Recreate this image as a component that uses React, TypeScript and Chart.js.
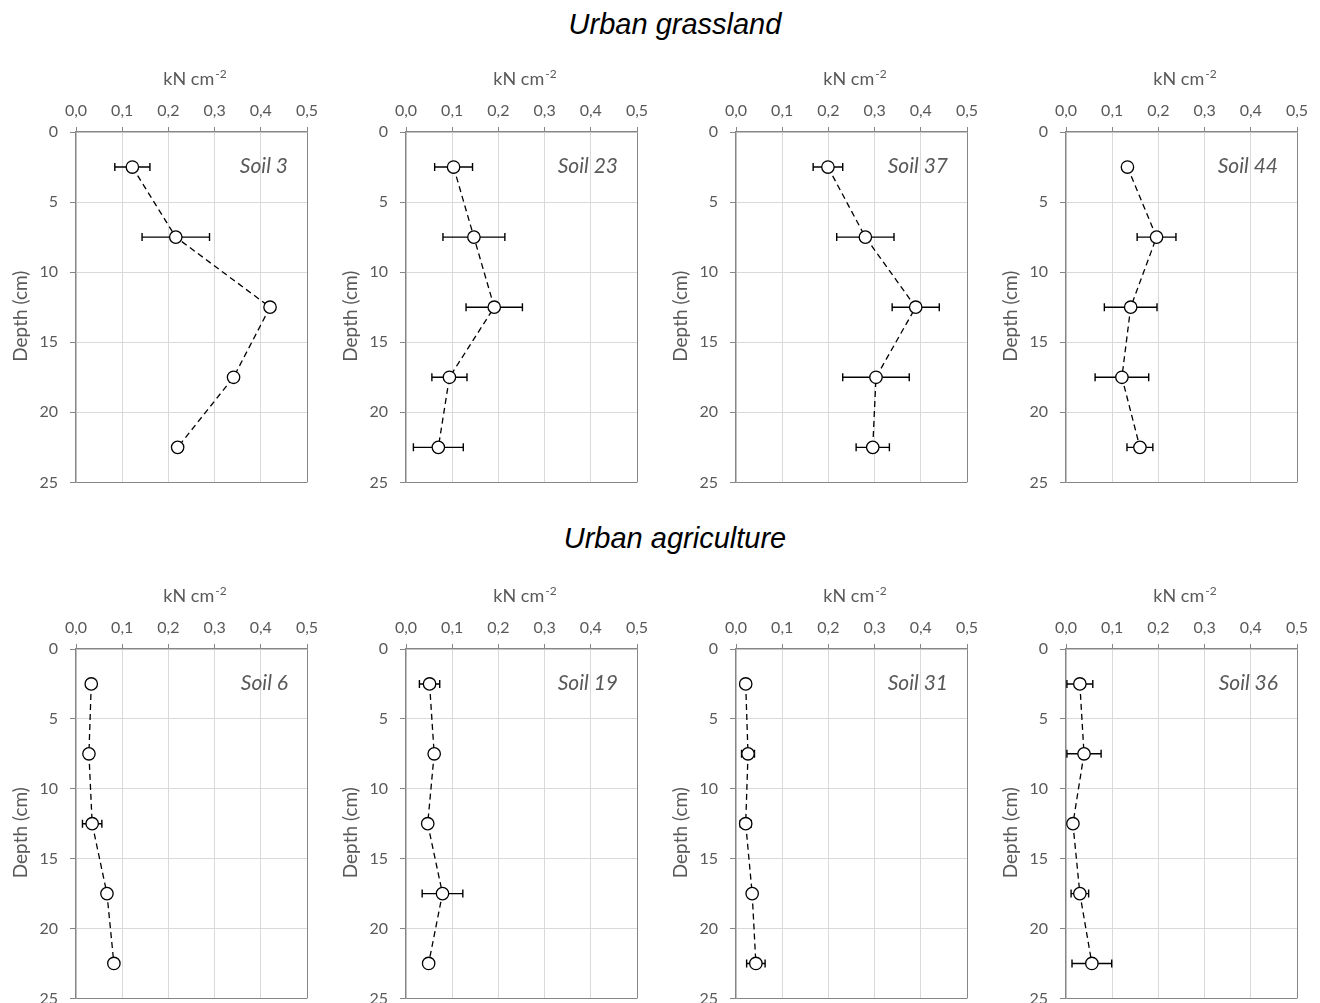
import React, { useEffect, useRef } from 'react';
import { Chart, registerables } from 'chart.js';

Chart.register(...registerables);

// ---------- data ----------
const DEPTHS = [2.5, 7.5, 12.5, 17.5, 22.5];
const X_MIN = 0;
const X_MAX = 0.5;
const X_STEP = 0.1;
const Y_MIN = 0;
const Y_MAX = 25;
const Y_STEP = 5;

const ROW_TITLES = ['Urban grassland', 'Urban agriculture'];
const X_TITLE = 'kN cm';
const X_TITLE_SUP = '-2';
const Y_TITLE = 'Depth (cm)';

const SOIL_3 = [0.122, 0.216, 0.42, 0.341, 0.22];
const SOIL_3_ERR = [0.038, 0.073, 0, 0, 0];
const SOIL_23 = [0.103, 0.147, 0.191, 0.094, 0.07];
const SOIL_23_ERR = [0.041, 0.067, 0.061, 0.038, 0.054];
const SOIL_37 = [0.199, 0.28, 0.389, 0.303, 0.296];
const SOIL_37_ERR = [0.032, 0.062, 0.051, 0.072, 0.036];
const SOIL_44 = [0.133, 0.196, 0.14, 0.121, 0.16];
const SOIL_44_ERR = [0, 0.042, 0.057, 0.058, 0.028];

const SOIL_6 = [0.033, 0.028, 0.035, 0.067, 0.082];
const SOIL_6_ERR = [0, 0, 0.021, 0, 0];
const SOIL_19 = [0.051, 0.061, 0.047, 0.079, 0.049];
const SOIL_19_ERR = [0.022, 0, 0, 0.044, 0];
const SOIL_31 = [0.021, 0.026, 0.021, 0.035, 0.043];
const SOIL_31_ERR = [0, 0.014, 0.012, 0, 0.02];
const SOIL_36 = [0.03, 0.039, 0.015, 0.03, 0.056];
const SOIL_36_ERR = [0.028, 0.037, 0, 0.019, 0.043];

const TOP_ROW = [
  { label: 'Soil 3', values: SOIL_3, errors: SOIL_3_ERR },
  { label: 'Soil 23', values: SOIL_23, errors: SOIL_23_ERR },
  { label: 'Soil 37', values: SOIL_37, errors: SOIL_37_ERR },
  { label: 'Soil 44', values: SOIL_44, errors: SOIL_44_ERR },
];
const BOTTOM_ROW = [
  { label: 'Soil 6', values: SOIL_6, errors: SOIL_6_ERR },
  { label: 'Soil 19', values: SOIL_19, errors: SOIL_19_ERR },
  { label: 'Soil 31', values: SOIL_31, errors: SOIL_31_ERR },
  { label: 'Soil 36', values: SOIL_36, errors: SOIL_36_ERR },
];

// ---------- styles ----------
const FONT = 'Lato, "Open Sans", sans-serif';
const TEXT = '#595959';
const GRID = '#d9d9d9';
const AXIS = '#868686';
const CELL_W = 330;

type PanelProps = {
  label: string;
  values: number[];
  errors: number[];
  left: number;
  top: number;
  height: number;
  axisHeight: number;
  bottomPad: number;
};

function SoilPanel({ label, values, errors, left, top, height, axisHeight, bottomPad }: PanelProps) {
  const ref = useRef<HTMLCanvasElement | null>(null);

  useEffect(() => {
    if (!ref.current) return;
    const decor = {
      id: 'decor',
      beforeDatasetsDraw(chart: any) {
        const { ctx } = chart;
        const x = chart.scales.x;
        const y = chart.scales.y;
        ctx.save();
        ctx.strokeStyle = '#000';
        ctx.lineWidth = 1.4;
        values.forEach((v, i) => {
          const e = errors[i];
          if (!e) return;
          const py = y.getPixelForValue(DEPTHS[i]);
          const x1 = x.getPixelForValue(v - e);
          const x2 = x.getPixelForValue(v + e);
          ctx.beginPath();
          ctx.moveTo(x1, py);
          ctx.lineTo(x2, py);
          ctx.moveTo(x1, py - 4);
          ctx.lineTo(x1, py + 4);
          ctx.moveTo(x2, py - 4);
          ctx.lineTo(x2, py + 4);
          ctx.stroke();
        });
        ctx.restore();
      },
      afterDraw(chart: any) {
        const { ctx, chartArea } = chart;
        const y = chart.scales.y;
        ctx.save();
        // panel label
        ctx.fillStyle = TEXT;
        ctx.font = `italic 21px ${FONT}`;
        ctx.textAlign = 'right';
        ctx.textBaseline = 'middle';
        ctx.fillText(label, chartArea.right - 19, y.getPixelForValue(2.5) - 1);
        // x title with superscript
        ctx.textBaseline = 'alphabetic';
        ctx.textAlign = 'left';
        ctx.font = `18px ${FONT}`;
        const w1 = ctx.measureText(X_TITLE).width;
        ctx.font = `12px ${FONT}`;
        const w2 = ctx.measureText(X_TITLE_SUP).width;
        const cx = (chartArea.left + chartArea.right) / 2 + 3;
        const startX = cx - (w1 + w2) / 2;
        const base = chartArea.top - 47;
        ctx.font = `18px ${FONT}`;
        ctx.fillText(X_TITLE, startX, base);
        ctx.font = `12px ${FONT}`;
        ctx.fillText(X_TITLE_SUP, startX + w1 + 1, base - 7);
        // y title
        ctx.font = `19px ${FONT}`;
        ctx.textAlign = 'center';
        ctx.textBaseline = 'middle';
        ctx.translate(21, (chartArea.top + chartArea.bottom) / 2 + 9);
        ctx.rotate(-Math.PI / 2);
        ctx.fillText(Y_TITLE, 0, 0);
        ctx.restore();
      },
    };

    const chart = new Chart(ref.current, {
      type: 'scatter',
      data: {
        datasets: [
          {
            data: values.map((v, i) => ({ x: v, y: DEPTHS[i] })),
            showLine: true,
            borderColor: '#000',
            borderWidth: 1.3,
            borderDash: [6, 4],
            pointRadius: 6.2,
            pointBorderWidth: 1.3,
            pointBackgroundColor: '#fff',
            pointBorderColor: '#000',
            fill: false,
            clip: false as any,
          },
        ],
      },
      options: {
        responsive: false,
        animation: false,
        events: [],
        layout: { padding: { left: 0, right: 23, top: 0, bottom: bottomPad } },
        plugins: {
          legend: { display: false },
          tooltip: { enabled: false },
          title: { display: false },
        },
        scales: {
          x: {
            type: 'linear',
            position: 'top',
            min: X_MIN,
            max: X_MAX,
            afterFit: (s: any) => {
              s.height = axisHeight;
            },
            ticks: {
              stepSize: X_STEP,
              color: TEXT,
              font: { family: FONT, size: 16 },
              padding: 7,
              maxRotation: 0,
              callback: (v: any) => Number(v).toFixed(1).replace('.', ','),
            },
            grid: {
              color: (c: any) => (c.tick && Math.abs(c.tick.value - X_MAX) < 1e-9 ? AXIS : GRID),
              tickColor: AXIS,
              tickLength: 5,
              lineWidth: 1,
            },
            border: { color: AXIS, width: 1.3 },
          },
          y: {
            type: 'linear',
            reverse: true,
            min: Y_MIN,
            max: Y_MAX,
            afterFit: (s: any) => {
              s.width = 76;
            },
            ticks: {
              stepSize: Y_STEP,
              color: TEXT,
              font: { family: FONT, size: 16 },
              padding: 12,
            },
            grid: {
              color: (c: any) => (c.tick && c.tick.value === Y_MAX ? AXIS : GRID),
              tickColor: AXIS,
              tickLength: 6,
              lineWidth: 1,
            },
            border: { color: AXIS, width: 1.3 },
          },
        },
      } as any,
      plugins: [decor],
    });
    return () => chart.destroy();
  }, [label, values, errors, axisHeight, bottomPad, height]);

  return (
    <canvas
      ref={ref}
      width={CELL_W}
      height={height}
      style={{ position: 'absolute', left, top, width: CELL_W, height, display: 'block' }}
    />
  );
}

const titleStyle: React.CSSProperties = {
  position: 'absolute',
  left: 0,
  width: 1350,
  textAlign: 'center',
  fontFamily: '"Liberation Sans", Arial, sans-serif',
  fontStyle: 'italic',
  fontSize: 29,
  lineHeight: '29px',
  color: '#000',
};

export default function App() {
  return (
    <div
      style={{
        position: 'absolute',
        left: 0,
        top: 0,
        width: 1320,
        height: 1003,
        background: '#fff',
        overflow: 'hidden',
      }}
    >
      <div style={{ ...titleStyle, top: 10 }}>{ROW_TITLES[0]}</div>
      <div style={{ ...titleStyle, top: 524 }}>{ROW_TITLES[1]}</div>
      {TOP_ROW.map((p, i) => (
        <SoilPanel
          key={p.label}
          label={p.label}
          values={p.values}
          errors={p.errors}
          left={i * CELL_W}
          top={60}
          height={444}
          axisHeight={72}
          bottomPad={0}
        />
      ))}
      {BOTTOM_ROW.map((p, i) => (
        <SoilPanel
          key={p.label}
          label={p.label}
          values={p.values}
          errors={p.errors}
          left={i * CELL_W}
          top={575}
          height={445}
          axisHeight={74}
          bottomPad={0}
        />
      ))}
    </div>
  );
}
